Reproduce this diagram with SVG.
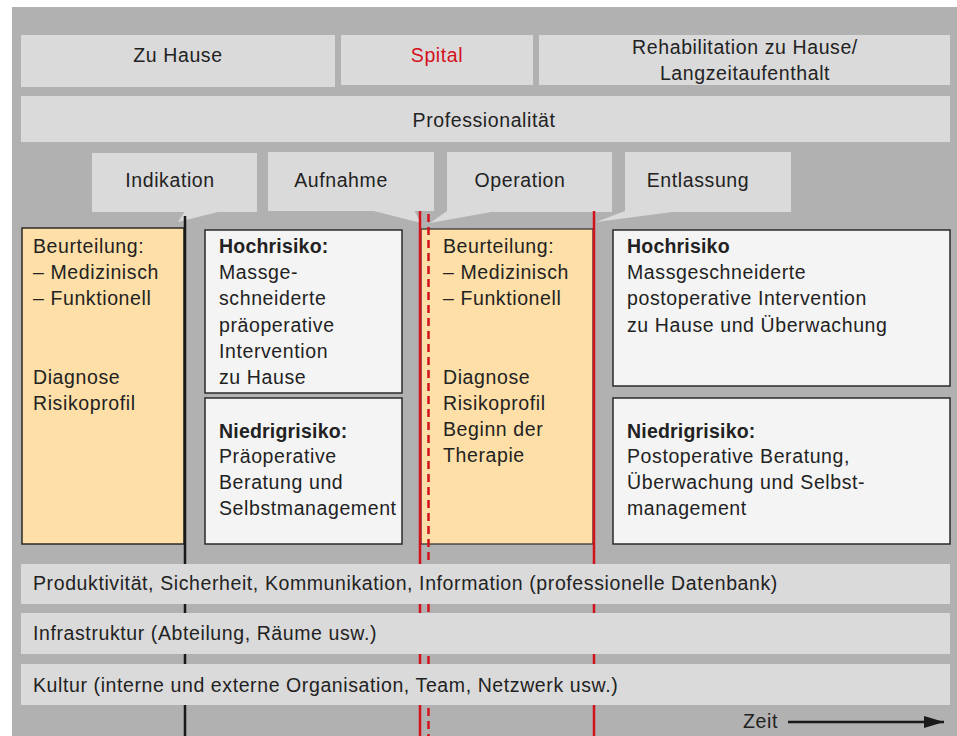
<svg xmlns="http://www.w3.org/2000/svg" width="957" height="736" viewBox="0 0 957 736">
<defs>
<style>
text{font-family:"Liberation Sans",Arial,sans-serif;font-size:19.5px;letter-spacing:0.6px;fill:#222}
.c{text-anchor:middle}
.b{font-weight:bold;letter-spacing:0.2px}
.bar{fill:#dadada}
.org{fill:#fddfa7;stroke:#2a2a2a;stroke-width:1.5}
.wht{fill:#f4f4f4;stroke:#2a2a2a;stroke-width:1.5}
.red{stroke:#d3121d;stroke-width:2.5;fill:none}
</style>
<marker id="ah" viewBox="0 0 20 12" refX="20" refY="6" markerWidth="20" markerHeight="12" markerUnits="userSpaceOnUse" orient="auto">
<path d="M0,0 L20,6 L0,12 z" fill="#1a1a1a"/>
</marker>
</defs>
<rect x="0" y="0" width="957" height="736" fill="#ffffff"/>
<rect x="12" y="7" width="945" height="729" fill="#b1b1b1"/>

<g id="zuhause"><rect class="bar" x="21" y="35" width="314" height="52"/><text class="c" x="178" y="62">Zu Hause</text></g>
<g id="spital"><rect class="bar" x="341" y="35" width="192" height="50"/><text class="c" x="437" y="62" style="fill:#d3121d">Spital</text></g>
<g id="reha"><rect class="bar" x="539" y="35" width="411" height="50"/><text class="c" x="745" y="54">Rehabilitation zu Hause/</text><text class="c" x="745" y="80">Langzeitaufenthalt</text></g>
<g id="prof"><rect class="bar" x="21" y="96" width="929" height="46"/><text class="c" x="484" y="127">Professionalität</text></g>

<g id="indikation"><rect class="bar" x="92" y="153" width="165" height="59"/><polygon class="bar" points="185,211 222,211 178,222"/><text class="c" x="170" y="187">Indikation</text></g>
<g id="aufnahme"><rect class="bar" x="268" y="152" width="166" height="59"/><polygon class="bar" points="370,210 414,210 421,223"/><text class="c" x="341" y="187">Aufnahme</text></g>
<g id="operation"><rect class="bar" x="447" y="152" width="165" height="60"/><polygon class="bar" points="447,211 497,211 430,223"/><text class="c" x="520" y="187">Operation</text></g>
<g id="entlassung"><rect class="bar" x="625" y="152" width="166" height="60"/><polygon class="bar" points="625,211 680,211 596,222"/><text class="c" x="698" y="187">Entlassung</text></g>

<g id="beurteilung1"><rect class="org" x="22" y="228" width="162" height="316"/>
<text x="33" y="253">Beurteilung:</text><text x="33" y="279">– Medizinisch</text><text x="33" y="305">– Funktionell</text><text x="33" y="384">Diagnose</text><text x="33" y="410">Risikoprofil</text></g>

<g id="hoch1"><rect class="wht" x="205" y="230" width="197" height="163"/>
<text x="219" y="253" class="b">Hochrisiko:</text><text x="219" y="279">Massge-</text><text x="219" y="305">schneiderte</text><text x="219" y="332">präoperative</text><text x="219" y="358">Intervention</text><text x="219" y="384">zu Hause</text></g>
<g id="niedrig1"><rect class="wht" x="205" y="398" width="197" height="146"/>
<text x="219" y="438" class="b">Niedrigrisiko:</text><text x="219" y="463">Präoperative</text><text x="219" y="489">Beratung und</text><text x="219" y="515">Selbstmanagement</text></g>

<g id="beurteilung2"><rect class="org" x="421" y="229" width="172" height="315" style="stroke-width:1.2"/>
<text x="443" y="253">Beurteilung:</text><text x="443" y="279">– Medizinisch</text><text x="443" y="305">– Funktionell</text><text x="443" y="384">Diagnose</text><text x="443" y="410">Risikoprofil</text><text x="443" y="436">Beginn der</text><text x="443" y="462">Therapie</text></g>

<g id="hoch2"><rect class="wht" x="613" y="230" width="337" height="156"/>
<text x="627" y="253" class="b">Hochrisiko</text><text x="627" y="279">Massgeschneiderte</text><text x="627" y="305">postoperative Intervention</text><text x="627" y="332">zu Hause und Überwachung</text></g>
<g id="niedrig2"><rect class="wht" x="613" y="398" width="337" height="146"/>
<text x="627" y="438" class="b">Niedrigrisiko:</text><text x="627" y="463">Postoperative Beratung,</text><text x="627" y="489">Überwachung und Selbst-</text><text x="627" y="515">management</text></g>

<g id="connectors">
<line x1="185" y1="216" x2="185" y2="736" stroke="#1a1a1a" stroke-width="2.5"/>
<line class="red" x1="420" y1="211" x2="420" y2="736"/>
<line class="red" x1="428.5" y1="214" x2="428.5" y2="736" stroke-dasharray="8,5"/>
<line class="red" x1="594" y1="211" x2="594" y2="736"/>
<line x1="788" y1="722" x2="944" y2="722" stroke="#1a1a1a" stroke-width="2.5" marker-end="url(#ah)"/>
</g>

<g id="produktivitaet"><rect class="bar" x="21" y="564" width="929" height="40"/><text x="33" y="590">Produktivität, Sicherheit, Kommunikation, Information (professionelle Datenbank)</text></g>
<g id="infrastruktur"><rect class="bar" x="21" y="613" width="929" height="41"/><text x="33" y="640">Infrastruktur (Abteilung, Räume usw.)</text></g>
<g id="kultur"><rect class="bar" x="21" y="664" width="929" height="41"/><text x="33" y="692">Kultur (interne und externe Organisation, Team, Netzwerk usw.)</text></g>

<g id="zeit"><text x="743" y="728">Zeit</text></g>
</svg>
